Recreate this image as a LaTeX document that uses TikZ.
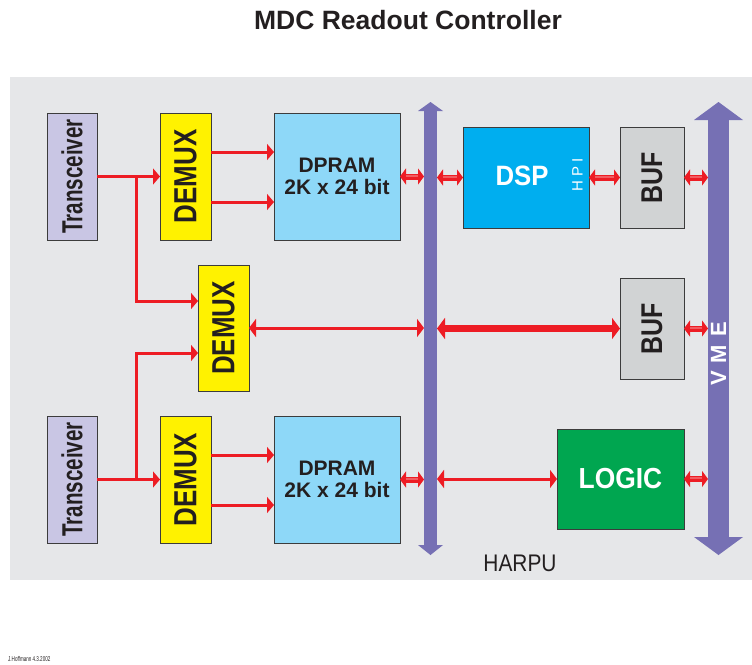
\documentclass[tikz,border=0pt]{standalone}
\usepackage{fontspec}
\setmainfont{Liberation Sans}
\usetikzlibrary{arrows.meta}
\definecolor{panel}{HTML}{E6E7E9}
\definecolor{trcol}{HTML}{C9C6E4}
\definecolor{dmcol}{HTML}{FFF200}
\definecolor{dpcol}{HTML}{8ED8F8}
\definecolor{dspcol}{HTML}{00AEEF}
\definecolor{bufcol}{HTML}{D1D3D4}
\definecolor{logcol}{HTML}{00A650}
\definecolor{buscol}{HTML}{7670B4}
\definecolor{redcol}{HTML}{ED1C24}
\definecolor{edgecol}{HTML}{3C3C3C}
\definecolor{txtcol}{HTML}{231F20}
\newcommand{\fsz}[1]{\fontsize{#1}{#1}\selectfont}
\newcommand{\cxs}[2]{\scalebox{#1}[1]{#2}}
\begin{document}
\begin{tikzpicture}[x=1pt,y=-1pt,
  box/.style={draw=edgecol, line width=0.9pt, inner sep=0pt, outer sep=0pt, anchor=north west, text=txtcol, font=\bfseries},
  busbar/.style={fill=buscol, draw=none, inner sep=0pt, outer sep=0pt},
  thinarr/.style={draw=redcol, line width=3pt, -{Triangle[width=16pt,length=7pt]}},
  thindbl/.style={draw=redcol, line width=3pt, {Triangle[width=18pt,length=7pt]}-{Triangle[width=18pt,length=7pt]}},
  thickdbl/.style={draw=redcol, line width=7pt, {Triangle[width=21pt,length=8pt]}-{Triangle[width=21pt,length=8pt]}},
  shortdbl/.style={draw=redcol, line width=6pt, {Triangle[width=16pt,length=6pt]}-{Triangle[width=16pt,length=6pt]},
    postaction={draw=redcol!72!white, line width=1.6pt, -, shorten <=6pt, shorten >=6pt, transform canvas={yshift=0.8pt}}},
  plainline/.style={draw=redcol, line width=3pt}
]
\useasboundingbox (0,0) rectangle (752,664);
\fill[panel] (10,77) rectangle (752,580);

% title and footer
\node[font=\bfseries\fsz{26.5}, text=txtcol] (title) at (408,20) {MDC Readout Controller};
\node[anchor=west, font=\fsz{7}, text=txtcol, inner sep=0pt] (footer) at (8,659) {\cxs{0.65}{J.Hoffmann 4.3.2002}};

% buses
\node[busbar, minimum width=13pt, minimum height=434pt] (harpu) at (430.5,328) {};
\fill[buscol] ([xshift=-12.5pt]harpu.north) -- ([yshift=9pt]harpu.north) -- ([xshift=12.5pt]harpu.north) -- cycle;
\fill[buscol] ([xshift=-12.5pt]harpu.south) -- ([yshift=-10pt]harpu.south) -- ([xshift=12.5pt]harpu.south) -- cycle;
\node[busbar, minimum width=21pt, minimum height=417pt] (vme) at (718.5,328.5) {};
\fill[buscol] ([xshift=-24.5pt]vme.north) -- ([yshift=18pt]vme.north) -- ([xshift=24.5pt]vme.north) -- cycle;
\fill[buscol] ([xshift=-24.5pt]vme.south) -- ([yshift=-18pt]vme.south) -- ([xshift=24.5pt]vme.south) -- cycle;
\node[text=white, font=\bfseries\fsz{22}, inner sep=0pt] (vmelbl) at (718.5,354) {\rotatebox{90}{V\hspace{8pt}M\hspace{8pt}E}};
\node[text=txtcol, font=\fsz{24}, inner sep=0pt] (harpulbl) at (520,563) {\cxs{0.87}{HARPU}};

% boxes
\node[box, fill=trcol, minimum width=50pt, minimum height=127pt] (tr1) at (47,113) {\rotatebox{90}{\fsz{29}\cxs{0.71}{Transceiver}}};
\node[box, fill=trcol, minimum width=50pt, minimum height=127pt] (tr2) at (47,416) {\rotatebox{90}{\fsz{29}\cxs{0.71}{Transceiver}}};
\node[box, fill=dmcol, minimum width=51pt, minimum height=127pt] (dm1) at (160,113) {\rotatebox{90}{\fsz{32}\cxs{0.81}{DEMUX}}};
\node[box, fill=dmcol, minimum width=51pt, minimum height=126pt] (dm2) at (198,265) {\rotatebox{90}{\fsz{32}\cxs{0.81}{DEMUX}}};
\node[box, fill=dmcol, minimum width=51pt, minimum height=127pt] (dm3) at (160,416) {\rotatebox{90}{\fsz{32}\cxs{0.81}{DEMUX}}};
\node[box, fill=dpcol, minimum width=126pt, minimum height=127pt, align=center, font=\bfseries\fsz{21}] (dp1) at (274,113) {DPRAM\\[1pt]2K x 24 bit};
\node[box, fill=dpcol, minimum width=126pt, minimum height=127pt, align=center, font=\bfseries\fsz{21}] (dp2) at (274,416) {DPRAM\\[1pt]2K x 24 bit};
\node[box, fill=dspcol, minimum width=126pt, minimum height=101pt] (dsp) at (463,127) {};
\node[text=white, font=\bfseries\fsz{28}, inner sep=0pt] (dsplbl) at (522,176) {\cxs{0.92}{DSP}};
\node[text=white, font=\fsz{15}, inner sep=0pt] (hpilbl) at (577.5,175) {\rotatebox{90}{H\hspace{4pt}P\hspace{4pt}I}};
\node[box, fill=bufcol, minimum width=64pt, minimum height=101pt] (buf1) at (620,127) {\rotatebox{90}{\fsz{30}\cxs{0.83}{BUF}}};
\node[box, fill=bufcol, minimum width=64pt, minimum height=101pt] (buf2) at (620,278) {\rotatebox{90}{\fsz{30}\cxs{0.83}{BUF}}};
\node[box, fill=logcol, minimum width=127pt, minimum height=100pt, text=white] (logic) at (557,429) {\fsz{29}\cxs{0.91}{LOGIC}};

% left connections
\coordinate (j1) at (136,176.5);
\coordinate (j2) at (136,479.5);
\draw[thinarr] (tr1.east) -- (dm1.west);
\draw[thinarr] (tr2.east) -- (dm3.west);
\draw[thinarr] (j1) |- ([yshift=27pt]dm2.west);
\draw[thinarr] (j2) |- ([yshift=-25pt]dm2.west);
\draw[thinarr] ([yshift=24.5pt]dm1.east) -- ([yshift=24.5pt]dm1.east -| dp1.west);
\draw[thinarr] ([yshift=-25.5pt]dm1.east) -- ([yshift=-25.5pt]dm1.east -| dp1.west);
\draw[thinarr] ([yshift=24.5pt]dm3.east) -- ([yshift=24.5pt]dm3.east -| dp2.west);
\draw[thinarr] ([yshift=-25.5pt]dm3.east) -- ([yshift=-25.5pt]dm3.east -| dp2.west);

% top row
\draw[shortdbl] (dp1.east) -- (dp1.east -| harpu.west);
\draw[shortdbl] (harpu.east |- dsp.west) -- (dsp.west);
\draw[shortdbl] (dsp.east) -- (buf1.west);
\draw[shortdbl] (buf1.east) -- (buf1.east -| vme.west);
% middle row
\draw[thindbl] (dm2.east) -- (dm2.east -| harpu.west);
\draw[thickdbl] (harpu.east |- buf2.west) -- (buf2.west);
\draw[shortdbl] (buf2.east) -- (buf2.east -| vme.west);
% bottom row
\draw[shortdbl] (dp2.east) -- (dp2.east -| harpu.west);
\draw[thindbl] (harpu.east |- logic.west) -- (logic.west);
\draw[shortdbl] (logic.east) -- (logic.east -| vme.west);
\end{tikzpicture}
\end{document}
